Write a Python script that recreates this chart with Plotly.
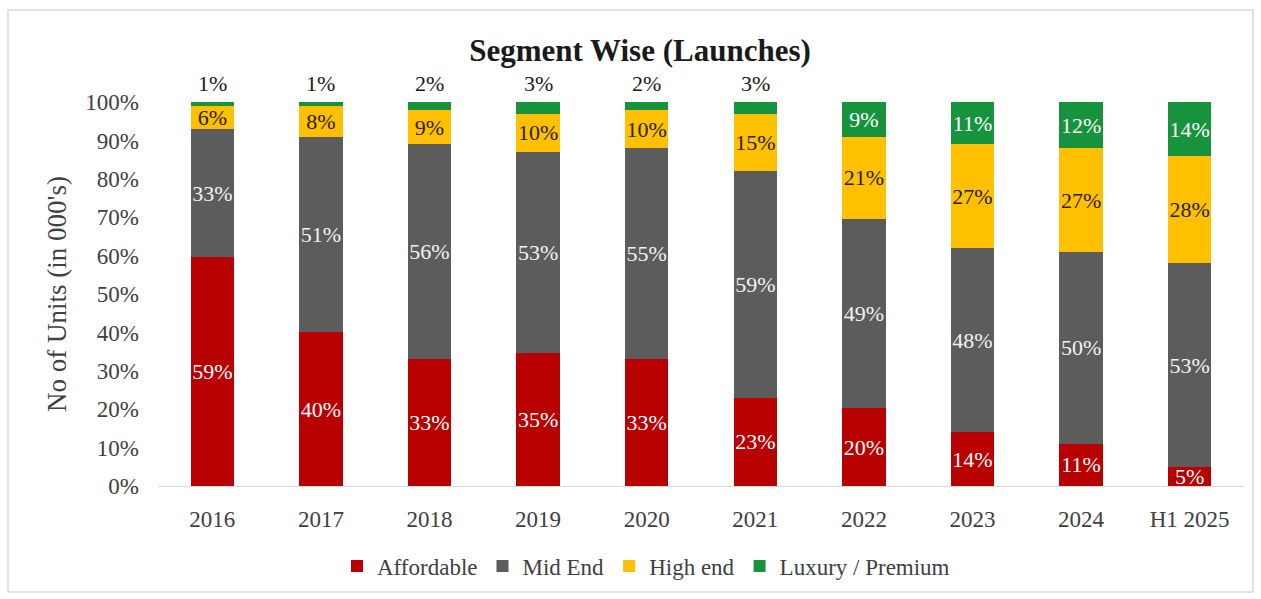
import plotly.graph_objects as go

# Launch share by segment (percent of units)
years = ["2016", "2017", "2018", "2019", "2020", "2021", "2022", "2023", "2024", "H1 2025"]
affordable = [59, 40, 33, 35, 33, 23, 20, 14, 11, 5]
mid_end = [33, 51, 56, 53, 55, 59, 49, 48, 50, 53]
high_end = [6, 8, 9, 10, 10, 15, 21, 27, 27, 28]
luxury = [1, 1, 2, 3, 2, 3, 9, 11, 12, 14]
y_ticks = [0, 10, 20, 30, 40, 50, 60, 70, 80, 90, 100]

SERIF = "Liberation Serif, Times New Roman, serif"
LABEL_SIZE = 22
SMALL_SHARE = 3  # luxury shares this small are labelled above the bar

# plot area in pixels (used to place the frame and legend)
W, H = 1261, 599
L, R, T, B = 158, 17, 102, 113
pw, ph = W - L - R, H - T - B


def px_x(x):
    return (x - L) / pw


def px_y(y):
    return (H - B - y) / ph


series = [
    ("Affordable", affordable, "#b80000", "white"),
    ("Mid End", mid_end, "#5c5c5c", "#f2f2f2"),
    ("High end", high_end, "#ffc000", "#2b2000"),
    ("Luxury / Premium", luxury, "#17933d", "white"),
]

fig = go.Figure()
for name, vals, color, tcolor in series:
    if name == "Luxury / Premium":
        labels = ["" if v <= SMALL_SHARE else f"{v}%" for v in vals]
    else:
        labels = [f"{v}%" for v in vals]
    fig.add_trace(go.Bar(
        name=name,
        x=years,
        y=vals,
        marker=dict(color=color, line=dict(width=0)),
        text=labels,
        textposition="inside",
        insidetextanchor="middle",
        textangle=0,
        constraintext="none",
        cliponaxis=False,
        insidetextfont=dict(family=SERIF, size=LABEL_SIZE, color=tcolor),
        hoverinfo="skip",
    ))

# small luxury shares sit just above the top of their bar
# (category axis: annotations are positioned by category index)
for i, v in enumerate(luxury):
    if v <= SMALL_SHARE:
        fig.add_annotation(
            x=i, y=100, xref="x", yref="y",
            text=f"{v}%", showarrow=False,
            yanchor="bottom", yshift=4,
            font=dict(family=SERIF, size=LABEL_SIZE, color="#1a1a1a"),
        )

fig.update_layout(
    width=W,
    height=H,
    barmode="stack",
    barnorm="percent",
    bargap=0.6,
    plot_bgcolor="white",
    paper_bgcolor="white",
    margin=dict(l=L, r=R, t=T, b=B, autoexpand=False),
    title=dict(
        text="<b>Segment Wise (Launches)</b>",
        font=dict(family=SERIF, size=31, color="#1a1a1a"),
        x=640 / W, xanchor="center", xref="container",
        y=1 - 50 / H, yanchor="middle", yref="container",
    ),
    legend=dict(
        orientation="h",
        x=px_x(646), xanchor="center",
        y=px_y(566), yanchor="middle",
        font=dict(family=SERIF, size=23, color="#404040"),
        itemwidth=30,
        traceorder="normal",
    ),
    showlegend=True,
)

# a hair above 100 so normalised stacks that round to 100 stay inside the range
fig.update_yaxes(
    range=[0, 100.05],
    tickvals=y_ticks,
    ticktext=[f"{t}%" for t in y_ticks],
    tickfont=dict(family=SERIF, size=23, color="#404040"),
    ticklabelstandoff=18,
    showgrid=False,
    zeroline=False,
    showline=False,
    title=dict(text="No of Units (in 000's)", font=dict(family=SERIF, size=27, color="#404040"), standoff=10),
    automargin=False,
)

fig.update_xaxes(
    type="category",
    categoryorder="array",
    categoryarray=years,
    range=[-0.5, len(years) - 0.5],
    tickfont=dict(family=SERIF, size=23, color="#404040"),
    ticklabelstandoff=12,
    showgrid=False,
    showline=True,
    linecolor="#d9d9d9",
    linewidth=1,
    automargin=False,
)

# outer chart frame
fig.add_shape(
    type="rect", xref="paper", yref="paper",
    x0=px_x(8), x1=px_x(1253), y0=px_y(592), y1=px_y(10),
    line=dict(color="#d9d9d9", width=1.5), fillcolor="rgba(0,0,0,0)", layer="below",
)

fig.write_html("out.html")
